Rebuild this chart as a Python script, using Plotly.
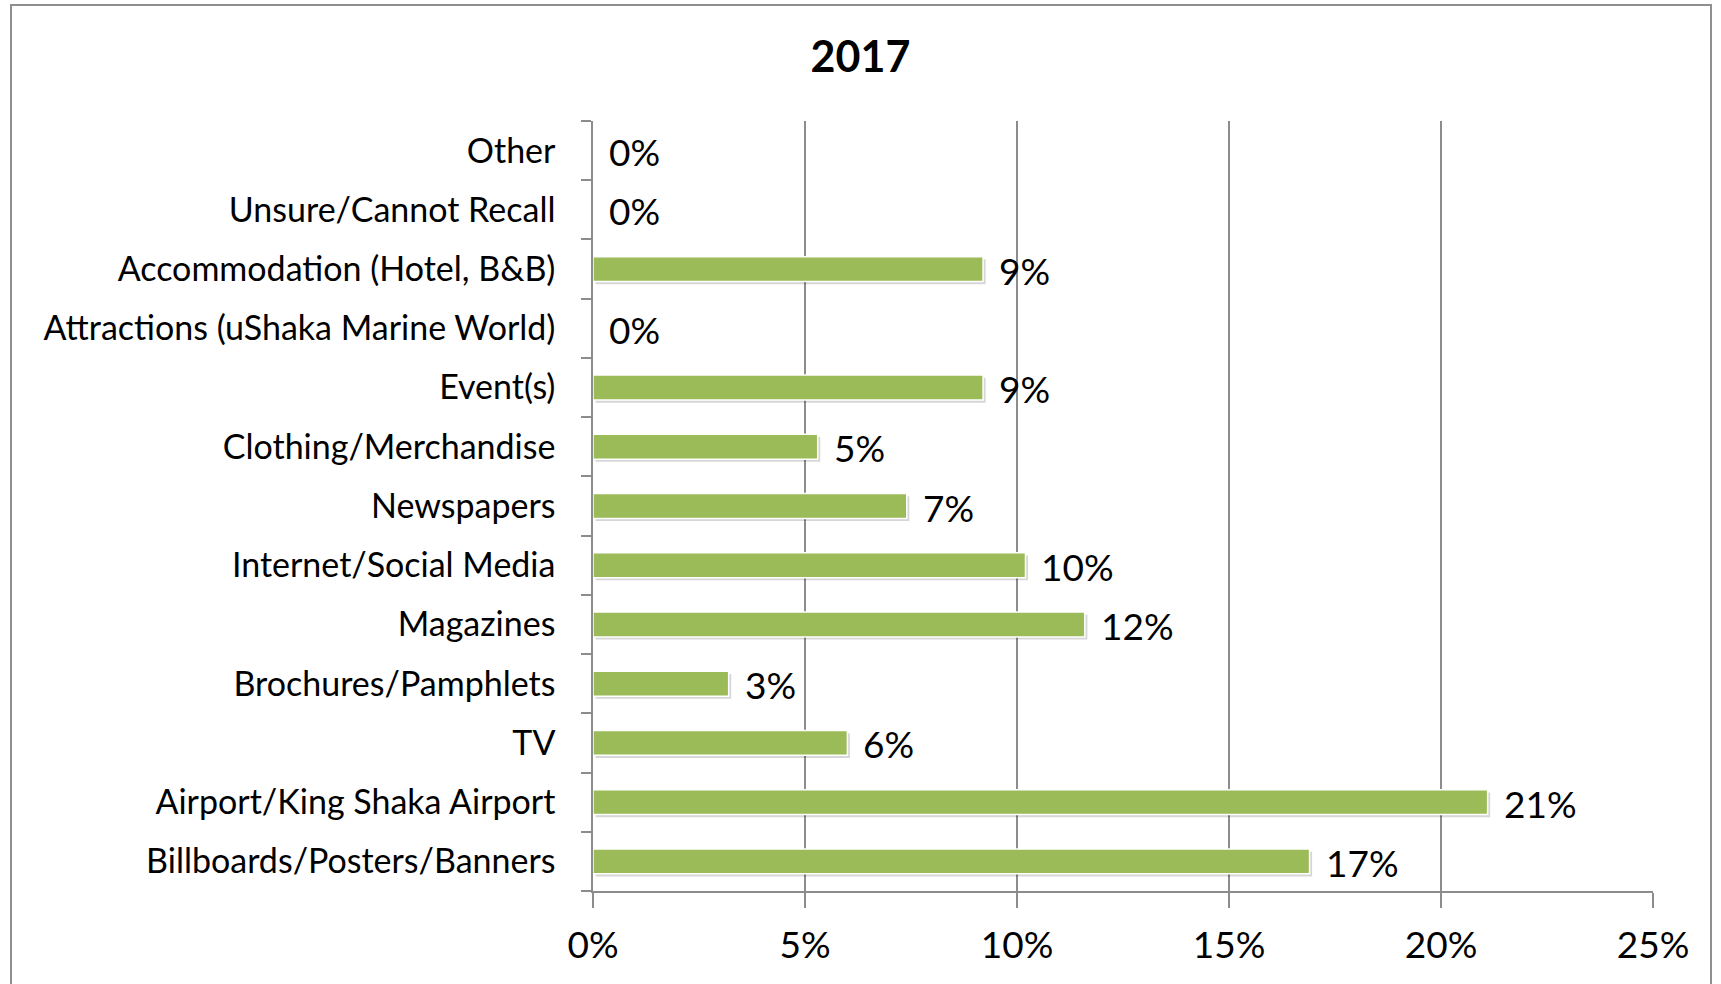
import plotly.graph_objects as go

# Survey responses: where visitors saw the campaign (2017), share of respondents in %
categories = [
    "Billboards/Posters/Banners",
    "Airport/King Shaka Airport",
    "TV",
    "Brochures/Pamphlets",
    "Magazines",
    "Internet/Social Media",
    "Newspapers",
    "Clothing/Merchandise",
    "Event(s)",
    "Attractions (uShaka Marine World)",
    "Accommodation (Hotel, B&B)",
    "Unsure/Cannot Recall",
    "Other",
]
shares = [16.9, 21.1, 6.0, 3.2, 11.6, 10.2, 7.4, 5.3, 9.2, 0.0, 9.2, 0.0, 0.0]
x_ticks = [0, 5, 10, 15, 20, 25]
x_tick_labels = ["0%", "5%", "10%", "15%", "20%", "25%"]
title_text = "2017"

W, H = 1721, 984
L, R, T, B = 593, 68, 121, 93
pw, ph = W - L - R, H - T - B

FONT = "Lato, Carlito, Calibri, sans-serif"
GREEN = "#9BBB59"
GRID = "#8C8C8C"

fig = go.Figure()

# soft drop shadow under each bar
fig.add_trace(go.Bar(
    y=categories, x=shares, orientation="h", base=0.06,
    width=0.42, offset=-0.21 - 0.045,
    marker=dict(color="rgba(0,0,0,0.16)", line=dict(width=0)),
    hoverinfo="skip", showlegend=False,
))
fig.add_trace(go.Bar(
    y=categories, x=shares, orientation="h",
    width=0.42, offset=-0.21,
    marker=dict(color=GREEN, line=dict(color="white", width=1.5)),
    showlegend=False,
))

# value labels just past the end of each bar
for c, v in zip(categories, shares):
    fig.add_annotation(
        x=v, y=c, text=f"{v:.0f}%", showarrow=False,
        xanchor="left", yanchor="middle", xshift=14, yshift=-1,
        font=dict(family=FONT, size=37, color="black"),
    )

# outer chart frame
fig.add_shape(
    type="rect", xref="paper", yref="paper",
    x0=(11 - L) / pw, x1=(1711 - L) / pw,
    y0=(H - T - 1010) / ph, y1=(H - B - 5) / ph,
    line=dict(color="#8F8F8F", width=2), fillcolor="rgba(0,0,0,0)", layer="below",
)

fig.update_layout(
    width=W, height=H,
    margin=dict(l=L, r=R, t=T, b=B, pad=0),
    paper_bgcolor="white", plot_bgcolor="white",
    title=dict(text=f"<b>{title_text}</b>", x=0.5, xanchor="center",
               y=1 - 57 / H, yanchor="middle",
               font=dict(family=FONT, size=43, color="black")),
    bargap=0.6,
    font=dict(family=FONT, size=35, color="black"),
)
fig.update_xaxes(
    range=[0, 25], tickvals=x_ticks, ticktext=x_tick_labels,
    showgrid=True, gridcolor=GRID, gridwidth=1.5,
    showline=True, linecolor=GRID, linewidth=1.5,
    ticks="outside", ticklen=15, tickcolor=GRID, tickwidth=1.5,
    ticklabelstandoff=6, zeroline=False,
    tickfont=dict(family=FONT, size=37, color="black"),
)
fig.update_yaxes(
    categoryorder="array", categoryarray=categories,
    showgrid=False, showline=True, linecolor=GRID, linewidth=1.5,
    ticks="outside", ticklen=10, tickcolor=GRID, tickwidth=1.5,
    tickson="boundaries", ticklabelstandoff=29,
    tickfont=dict(family=FONT, size=34, color="black"),
)

fig.write_html("out.html")
